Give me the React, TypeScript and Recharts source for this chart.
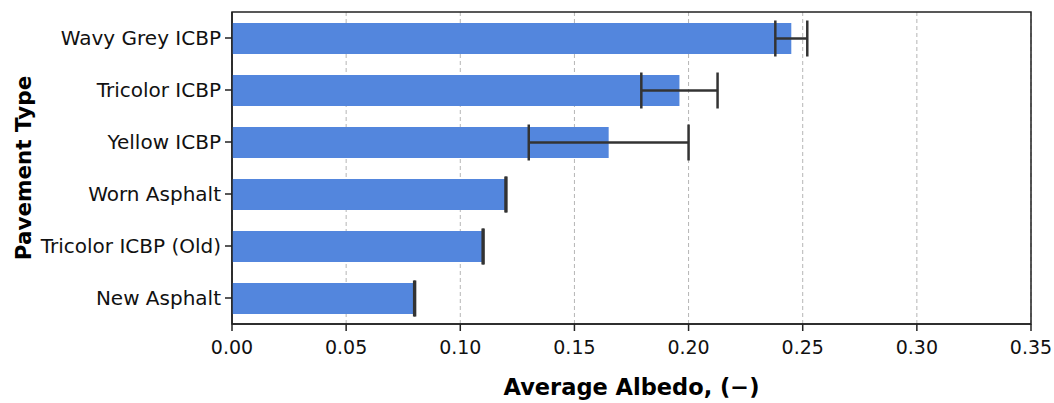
import { BarChart, Bar, XAxis, YAxis, CartesianGrid, ErrorBar, ReferenceArea } from 'recharts';

const pavements = [
  'Wavy Grey ICBP',
  'Tricolor ICBP',
  'Yellow ICBP',
  'Worn Asphalt',
  'Tricolor ICBP (Old)',
  'New Asphalt',
];
const albedo = [0.245, 0.196, 0.165, 0.12, 0.11, 0.08];
const albedoErr = [0.007, 0.0167, 0.035, 0.0002, 0.0002, 0.0002];
const xTicks = [0, 0.05, 0.1, 0.15, 0.2, 0.25, 0.3, 0.35];

const data = pavements.map((name, i) => ({ name, value: albedo[i], err: albedoErr[i] }));

const FONT = '"DejaVu Sans", sans-serif';
const AXIS = '#222';

const XLabel = ({ viewBox }: any) => (
  <text
    x={viewBox.x + viewBox.width / 2}
    y={395}
    textAnchor="middle"
    fontFamily={FONT}
    fontWeight="bold"
    fontSize={22.5}
    fill="#000"
  >
    Average Albedo, (−)
  </text>
);

const YLabel = ({ viewBox }: any) => {
  const cy = viewBox.y + viewBox.height / 2;
  return (
    <text
      x={31}
      y={cy}
      transform={`rotate(-90, 31, ${cy})`}
      textAnchor="middle"
      fontFamily={FONT}
      fontWeight="bold"
      fontSize={21.5}
      fill="#000"
    >
      Pavement Type
    </text>
  );
};

export default function App() {
  return (
    <div style={{ position: 'absolute', left: 0, top: 0, background: '#fff' }}>
      <BarChart
        width={1054}
        height={403}
        data={data}
        layout="vertical"
        margin={{ top: 12, right: 23, bottom: 0, left: 0 }}
        style={{ fontFamily: FONT }}
      >
        <CartesianGrid horizontal={false} strokeDasharray="4 3" stroke="#b5b5b5" />
        <XAxis
          type="number"
          domain={[0, 0.35]}
          ticks={xTicks}
          tickFormatter={(v: number) => v.toFixed(2)}
          allowDataOverflow
          height={79}
          stroke={AXIS}
          strokeWidth={1.5}
          tickSize={7}
          tickMargin={10}
          tick={{ fontSize: 19, fill: '#111', fontFamily: FONT }}
          label={{ content: XLabel }}
        />
        <YAxis
          type="category"
          dataKey="name"
          width={232}
          stroke={AXIS}
          strokeWidth={1.5}
          tickSize={7}
          tickMargin={4}
          tick={{ fontSize: 20, fill: '#111', fontFamily: FONT }}
          label={{ content: YLabel }}
        />
        <Bar dataKey="value" fill="#5386dd" barSize={31} isAnimationActive={false}>
          <ErrorBar dataKey="err" direction="x" width={18} stroke="#333" strokeWidth={2.5} />
        </Bar>
        <ReferenceArea x1={0} x2={0.35} fill="none" stroke={AXIS} strokeWidth={1.5} ifOverflow="visible" />
      </BarChart>
    </div>
  );
}
